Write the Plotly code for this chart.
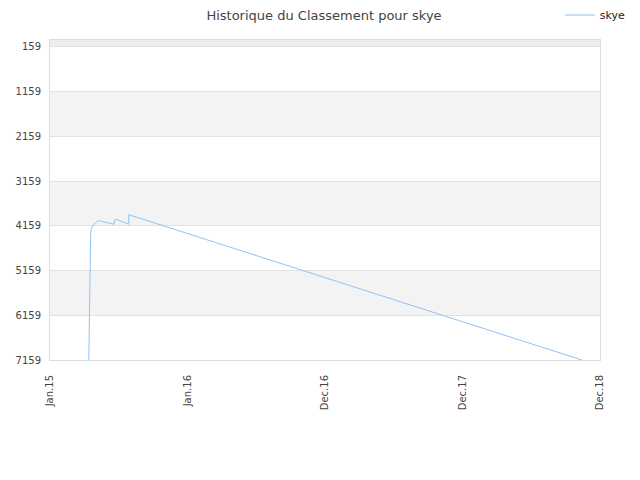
import plotly.graph_objects as go

# rank history (lower number = better rank)
dates = ["2015-04-14", "2015-04-17", "2015-04-17", "2015-04-19", "2015-04-21",
         "2015-04-26", "2015-05-09", "2015-06-20", "2015-06-22", "2015-06-27",
         "2015-07-29", "2015-07-29", "2018-11-13"]
ranks = [7159, 5280, 4548, 4325, 4213,
         4139, 4042, 4123, 4032, 4016,
         4123, 3909, 7159]

y_ticks = [159, 1159, 2159, 3159, 4159, 5159, 6159, 7159]
x_ticks = ["2015-01-01", "2016-01-01", "2016-12-31", "2017-12-31", "2018-12-31"]
x_labels = ["Jan.15", "Jan.16", "Dec.16", "Dec.17", "Dec.18"]

fig = go.Figure()
fig.add_trace(go.Scatter(x=dates, y=ranks, mode="lines", name="skye",
                         line=dict(color="#90c3f5", width=1)))

# alternating bands
shapes = [dict(type="rect", xref="paper", yref="y", x0=0, x1=1, y0=3, y1=159,
               fillcolor="#eeeeee", line_width=0, layer="below")]
for i in range(len(y_ticks) - 1):
    if i % 2 == 1:
        shapes.append(dict(type="rect", xref="paper", yref="y", x0=0, x1=1,
                           y0=y_ticks[i], y1=y_ticks[i + 1],
                           fillcolor="#f3f3f3", line_width=0, layer="below"))

# page has ~8px body margin, so the figure is a bit smaller than the window
fig.update_layout(
    width=632, height=472,
    margin=dict(l=42, r=40, t=32, b=120, autoexpand=False),
    paper_bgcolor="white", plot_bgcolor="white",
    font=dict(family="DejaVu Sans", size=10, color="#444"),
    title=dict(text="Historique du Classement pour skye", x=0.5, xanchor="center",
               y=0.994, yanchor="top", pad=dict(t=0, b=0),
               font=dict(size=13, color="#444")),
    showlegend=True,
    legend=dict(x=0.927, xanchor="left", y=1.078, yanchor="middle",
                font=dict(size=11, color="#222"), bgcolor="rgba(0,0,0,0)"),
    shapes=shapes,
)
fig.update_xaxes(type="date", range=["2015-01-01", "2018-12-31"],
                 tickvals=x_ticks, ticktext=x_labels, tickangle=-90,
                 showgrid=False, showline=True, mirror=True, automargin=False,
                 linecolor="#dddddd", linewidth=1, ticks="", zeroline=False,
                 ticklabelstandoff=10)
fig.update_yaxes(range=[7159, 3], tickvals=y_ticks, showgrid=True, automargin=False,
                 gridcolor="#e2e2e2", gridwidth=1, showline=True, mirror=True,
                 linecolor="#dddddd", linewidth=1, ticks="", zeroline=False,
                 ticklabelstandoff=6)

fig.write_html("out.html")
